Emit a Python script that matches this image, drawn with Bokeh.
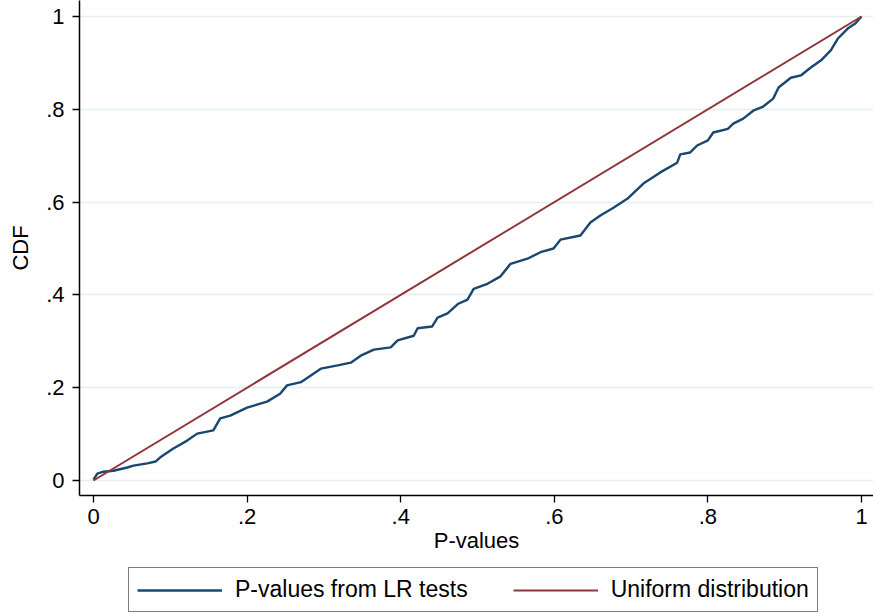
from bokeh.plotting import figure
from bokeh.layouts import column
from bokeh.models import (Range1d, FixedTicker, CustomJSTickFormatter, Legend,
                          LegendItem)
from bokeh.embed import file_html
from bokeh.resources import INLINE

# ECDF of p-values from LR tests
p_values = [0.000, 0.005, 0.013, 0.026, 0.044, 0.052, 0.070, 0.081, 0.087, 0.104,
            0.122, 0.135, 0.156, 0.165, 0.178, 0.200, 0.226, 0.243, 0.252, 0.270,
            0.296, 0.318, 0.335, 0.348, 0.365, 0.387, 0.396, 0.417, 0.422, 0.441,
            0.448, 0.461, 0.475, 0.487, 0.495, 0.513, 0.530, 0.543, 0.565, 0.582,
            0.599, 0.608, 0.634, 0.647, 0.660, 0.677, 0.695, 0.716, 0.738, 0.760,
            0.764, 0.777, 0.786, 0.800, 0.807, 0.826, 0.833, 0.846, 0.859, 0.872,
            0.885, 0.892, 0.908, 0.921, 0.934, 0.947, 0.960, 0.969, 0.982, 0.992,
            1.000]
cdf_values = [0.002, 0.015, 0.019, 0.021, 0.028, 0.032, 0.037, 0.041, 0.050, 0.069,
              0.086, 0.101, 0.108, 0.134, 0.140, 0.157, 0.170, 0.187, 0.205, 0.212,
              0.241, 0.248, 0.254, 0.269, 0.282, 0.287, 0.302, 0.312, 0.328, 0.332,
              0.351, 0.360, 0.381, 0.390, 0.413, 0.424, 0.440, 0.467, 0.478, 0.492,
              0.500, 0.519, 0.528, 0.556, 0.571, 0.588, 0.607, 0.640, 0.664, 0.685,
              0.703, 0.707, 0.722, 0.733, 0.750, 0.758, 0.769, 0.780, 0.797, 0.806,
              0.823, 0.847, 0.868, 0.873, 0.890, 0.905, 0.927, 0.952, 0.974, 0.985,
              1.000]

# Uniform distribution reference line
uniform_x = [0.0, 1.0]
uniform_y = [0.0, 1.0]

tick_values = [0, 0.2, 0.4, 0.6, 0.8, 1.0]

series_labels = ["P-values from LR tests", "Uniform distribution"]
x_label = "P-values"
y_label = "CDF"

FONT = "Liberation Sans"
BLUE = "#1a476f"
RED = "#90353b"

# ---------------- main plot ----------------
p = figure(width=873, height=560, output_backend="svg", toolbar_location=None,
           x_range=Range1d(-0.01823, 1.015625), y_range=Range1d(-0.03233, 1.0345),
           min_border_left=79, min_border_right=0, min_border_top=0,
           min_border_bottom=65)
p.outline_line_color = None
p.background_fill_color = "white"
p.border_fill_color = "white"

r1 = p.line(p_values, cdf_values, line_color=BLUE, line_width=2.4)
r2 = p.line(uniform_x, uniform_y, line_color=RED, line_width=2)

fmt = CustomJSTickFormatter(code="""
if (Math.abs(tick) < 1e-9) return '0';
if (Math.abs(tick - 1) < 1e-9) return '1';
return tick.toFixed(1).replace(/^0/, '');
""")

for ax in (p.xaxis[0], p.yaxis[0]):
    ax.ticker = FixedTicker(ticks=tick_values)
    ax.formatter = fmt
    ax.minor_tick_line_color = None
    ax.major_tick_in = 0
    ax.major_tick_out = 7
    ax.major_tick_line_color = "black"
    ax.major_tick_line_width = 1.3
    ax.axis_line_color = "black"
    ax.axis_line_width = 1.5
    ax.major_label_text_font = FONT
    ax.major_label_text_font_size = "22px"
    ax.major_label_text_color = "black"
    ax.axis_label_text_font = FONT
    ax.axis_label_text_font_size = "22px"
    ax.axis_label_text_font_style = "normal"
    ax.axis_label_text_color = "black"

p.xaxis[0].axis_label = x_label
p.xaxis[0].major_label_standoff = 6
p.xaxis[0].axis_label_standoff = 1
p.yaxis[0].axis_label = y_label
p.yaxis[0].major_label_standoff = 8
p.yaxis[0].axis_label_standoff = 10
p.yaxis[0].major_label_orientation = "horizontal"

p.xgrid.grid_line_color = None
p.ygrid.ticker = FixedTicker(ticks=tick_values)
p.ygrid.grid_line_color = "#e4edf0"
p.ygrid.grid_line_width = 1.6

# ---------------- legend strip (frame aligned with main plot frame) ----------------
lg = figure(width=873, height=53, output_backend="svg", toolbar_location=None,
            x_range=Range1d(0, 1), y_range=Range1d(5, 6),
            min_border_left=79, min_border_right=0, min_border_top=0,
            min_border_bottom=0)
lg.axis.visible = False
lg.grid.visible = False
lg.outline_line_color = None
lg.background_fill_color = "white"
lg.border_fill_color = "white"
# proxies for the legend keys (drawn out of this strip's view range)
k1 = lg.line(p_values, cdf_values, line_color=BLUE, line_width=2.4)
k2 = lg.line(uniform_x, uniform_y, line_color=RED, line_width=2)

legend = Legend(items=[LegendItem(label=series_labels[0], renderers=[k1]),
                       LegendItem(label=series_labels[1], renderers=[k2])],
                orientation="horizontal", location=(49, 1))
legend.label_text_font = FONT
legend.label_text_font_size = "23px"
legend.label_text_color = "black"
legend.glyph_width = 85
legend.glyph_height = 24
legend.label_standoff = 13
legend.spacing = 45
legend.padding = 8
legend.margin = 0
legend.border_line_color = "black"
legend.border_line_width = 1.2
legend.background_fill_color = "white"
legend.background_fill_alpha = 1
lg.add_layout(legend, "center")

layout = column(p, lg, spacing=0)
open("out.html", "w").write(file_html(layout, INLINE))
